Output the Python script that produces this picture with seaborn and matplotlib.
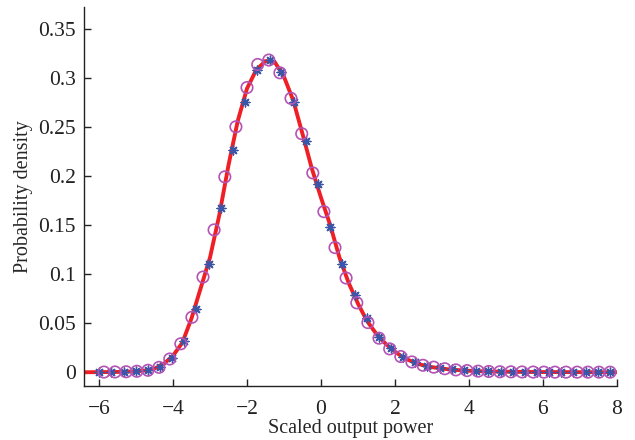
import matplotlib
matplotlib.use("Agg")
import matplotlib.pyplot as plt
import seaborn as sns
import pandas as pd

# fitted density curve
curve_x = [-6.4, -5.5, -5.0, -4.75, -4.5, -4.25, -4.0, -3.75, -3.5, -3.25,
           -3.0, -2.75, -2.5, -2.25, -2.0, -1.75, -1.5, -1.25, -1.0, -0.75,
           -0.5, -0.25, 0.0, 0.25, 0.5, 0.75, 1.0, 1.25, 1.5, 1.75,
           2.0, 2.25, 2.5, 2.75, 3.0, 3.5, 4.0, 4.5, 5.0, 6.0, 7.0, 8.0]
curve_y = [0.0, 0.0003, 0.0009, 0.0018, 0.0038, 0.0085, 0.017, 0.030, 0.055, 0.086,
           0.117, 0.160, 0.211, 0.256, 0.289, 0.308, 0.317, 0.316, 0.301, 0.277,
           0.243, 0.208, 0.178, 0.150, 0.117, 0.091, 0.070, 0.052, 0.039, 0.029,
           0.021, 0.0145, 0.0103, 0.0072, 0.0052, 0.0027, 0.0015, 0.0008, 0.0005, 0.0002, 0.0001, 0.0]

# asterisk series
star_x = [-6.00, -5.67, -5.34, -5.01, -4.68, -4.36, -4.03, -3.70, -3.37, -3.04,
          -2.71, -2.38, -2.05, -1.72, -1.39, -1.07, -0.74, -0.41, -0.08, 0.25,
          0.58, 0.91, 1.24, 1.57, 1.90, 2.23, 2.55, 2.88, 3.21, 3.54,
          3.87, 4.20, 4.53, 4.86, 5.19, 5.52, 5.84, 6.17, 6.50, 6.83,
          7.16, 7.49, 7.82]
star_y = [0.0001, 0.0002, 0.0004, 0.0008, 0.002, 0.0055, 0.0145, 0.032, 0.064, 0.110,
          0.167, 0.226, 0.2755, 0.308, 0.318, 0.306, 0.2755, 0.236, 0.192, 0.148,
          0.110, 0.079, 0.055, 0.036, 0.0245, 0.016, 0.0108, 0.0068, 0.0045, 0.0029,
          0.0019, 0.0012, 0.0008, 0.0005, 0.0003, 0.0002, 0.0001, 0.0001, 0.0001, 0.0,
          0.0, 0.0, 0.0]

# circle series
circ_x = [-5.87, -5.57, -5.27, -4.98, -4.68, -4.38, -4.09, -3.79, -3.49, -3.19,
          -2.89, -2.60, -2.30, -2.00, -1.71, -1.41, -1.11, -0.81, -0.52, -0.22,
          0.08, 0.38, 0.68, 0.97, 1.27, 1.57, 1.86, 2.16, 2.46, 2.76,
          3.05, 3.35, 3.65, 3.95, 4.25, 4.54, 4.84, 5.14, 5.44, 5.74,
          6.03, 6.33, 6.63, 6.93, 7.22, 7.52, 7.82]
circ_y = [0.0002, 0.0003, 0.0005, 0.001, 0.002, 0.005, 0.0135, 0.029, 0.056, 0.097,
          0.145, 0.199, 0.250, 0.290, 0.3135, 0.318, 0.305, 0.279, 0.243, 0.203,
          0.1636, 0.127, 0.096, 0.0707, 0.0506, 0.0347, 0.0238, 0.016, 0.0105, 0.0071,
          0.0052, 0.0036, 0.0024, 0.0017, 0.0011, 0.0008, 0.0005, 0.0004, 0.0003, 0.0002,
          0.0001, 0.0001, 0.0001, 0.0001, 0.0001, 0.0001, 0.0001]

x_ticks = [-6, -4, -2, 0, 2, 4, 6, 8]
y_ticks = [0, 0.05, 0.1, 0.15, 0.2, 0.25, 0.3, 0.35]
y_ticklabels = ["0", "0.05", "0.1", "0.15", "0.2", "0.25", "0.3", "0.35"]

sns.set_style("ticks")
plt.rcParams["font.family"] = ["Liberation Serif", "DejaVu Serif"]
plt.rcParams["xtick.direction"] = "in"
plt.rcParams["ytick.direction"] = "in"

fig = plt.figure(figsize=(6.35, 4.4), dpi=100)
ax = fig.add_axes([0.1328, 0.1234, 0.8384, 0.8606])

curve = pd.DataFrame({"x": curve_x, "y": curve_y})
stars = pd.DataFrame({"x": star_x, "y": star_y})
circs = pd.DataFrame({"x": circ_x, "y": circ_y})

sns.lineplot(data=curve, x="x", y="y", ax=ax, color="#ee1f25", linewidth=2.8,
             sort=False, zorder=2)
sns.scatterplot(data=stars, x="x", y="y", ax=ax, marker=(8, 2, 0), s=40,
                color="#3a56a8", edgecolor="#3a56a8", linewidth=1.0, zorder=3)
sns.scatterplot(data=circs, x="x", y="y", ax=ax, marker="o", s=68,
                facecolors="none", edgecolor="#b353b5", linewidth=1.2, zorder=4)

ax.set_xlim(-6.4, 8.0)
ax.set_ylim(-0.0137, 0.372)
ax.set_xticks(x_ticks)
ax.set_xticklabels([f"{t}".replace("-", "\u2212") for t in x_ticks])
ax.set_yticks(y_ticks)
ax.set_yticklabels(y_ticklabels)
ax.tick_params(axis="x", labelsize=15.5, length=5, width=1, colors="#222222", pad=10)
ax.tick_params(axis="y", labelsize=15.5, length=5, width=1, colors="#222222", pad=6)
for s in ["top", "right"]:
    ax.spines[s].set_visible(False)
for s in ["left", "bottom"]:
    ax.spines[s].set_color("#222222")
    ax.spines[s].set_linewidth(1.0)

ax.set_xlabel("Scaled output power", fontsize=14.5, labelpad=0)
ax.set_ylabel("Probability density", fontsize=14.5, labelpad=4)

fig.savefig("out.png", dpi=100)
